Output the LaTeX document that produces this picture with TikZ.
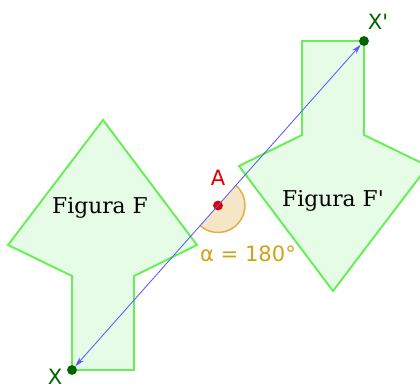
\documentclass[tikz,border=0pt]{standalone}
\usepackage{fontspec}
\setmainfont{DejaVu Serif}
\newfontfamily\labelfont{DejaVu Sans}
\usetikzlibrary{arrows.meta}

\definecolor{figfill}{RGB}{230,252,230}
\definecolor{figline}{RGB}{102,240,85}
\definecolor{vecblue}{RGB}{90,90,255}
\definecolor{anglefill}{RGB}{245,230,200}
\definecolor{angleline}{RGB}{222,178,70}
\definecolor{anglegold}{RGB}{212,160,23}
\definecolor{ptgreen}{RGB}{0,100,0}
\definecolor{ptred}{RGB}{220,0,0}

\begin{document}
\begin{tikzpicture}[
    x=0.025cm, y=-0.025cm,
    figure/.style={draw=figline, fill=figfill, line width=1.4pt, line join=miter},
    point/.style={circle, inner sep=0pt, outer sep=0pt, minimum size=7pt},
    ptlabel/.style={font=\labelfont\fontsize{15}{17}\selectfont},
    figlabel/.style={font=\fontsize{15.5}{17}\selectfont},
]
    \useasboundingbox (0,0) rectangle (420,387);

    % Figure F
    \draw[figure] (103,120) -- (197,245) -- (134,276) -- (134,370)
        -- (72,370) -- (72,276) -- (8,245) -- cycle;
    \node[figlabel] (figF) at (100,208) {Figura F};

    % Figure F' (F turned half a turn about A)
    \draw[figure] (333,291) -- (239,166) -- (302,135) -- (302,41)
        -- (364,41) -- (364,135) -- (428,166) -- cycle;
    \node[figlabel] (figFp) at (333,201) {Figura F\textquotesingle};

    % Angle of rotation
    \fill[anglefill] (218,205.5) -- +(-48.5:27) arc[start angle=-48.5, end angle=131.5, radius=27] -- cycle;
    \draw[angleline, line width=1.1pt] (218,205.5) ++(-48.5:27) arc[start angle=-48.5, end angle=131.5, radius=27];
    \node[ptlabel, text=anglegold] (alpha) at (248,254) {α = 180°};

    % Points
    \node[point, fill=ptred] (A) at (218,205.5) {};
    \node[point, fill=ptgreen] (X) at (72,370) {};
    \node[point, fill=ptgreen] (Xp) at (364,41) {};

    % Vector X -- X'
    \draw[vecblue, line width=0.6pt, {Stealth[length=7pt,width=4pt]}-{Stealth[length=7pt,width=4pt]}] (X) -- (Xp);

    % Labels
    \node[ptlabel, text=ptred] (Alab) at (218,178) {A};
    \node[ptlabel, text=ptgreen] (Xlab) at (55,377) {X};
    \node[ptlabel, text=ptgreen] (Xplab) at (378,22) {X'};
\end{tikzpicture}
\end{document}
